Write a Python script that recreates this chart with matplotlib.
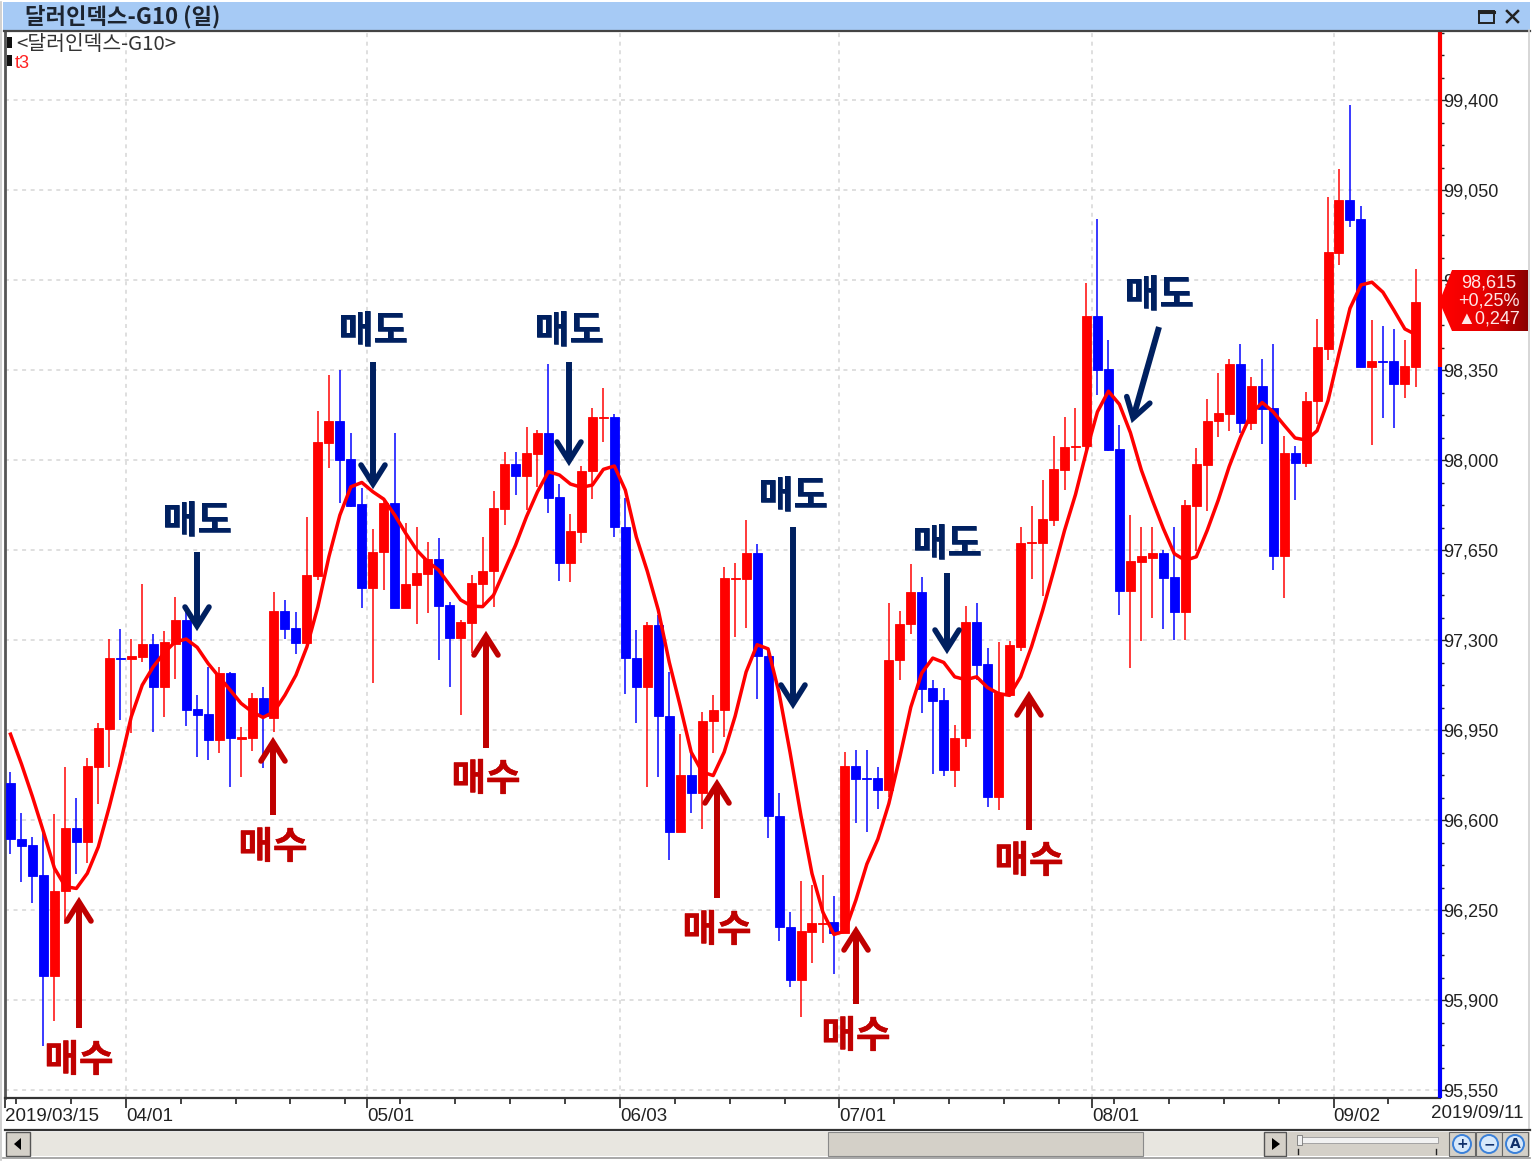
import numpy as np
import matplotlib
matplotlib.use('Agg')
import matplotlib.pyplot as plt
import matplotlib.patheffects as pe
from matplotlib.patches import Rectangle, Polygon, Circle
from matplotlib.ticker import FixedLocator, MultipleLocator

latin = ['Liberation Sans', 'Noto Sans CJK KR', 'DejaVu Sans']
korean = ['Noto Sans CJK KR', 'DejaVu Sans']
plt.rcParams['font.family'] = latin

# daily candles, 2019/03/15 - 2019/09/11
opens = [96745, 96525, 96502, 96387, 95995, 96324, 96569, 96516, 96807, 96954,
         97231, 97227, 97234, 97286, 97118, 97286, 97378, 97031, 97012, 96911,
         97171, 96916, 96918, 97073, 96998, 97414, 97347, 97287, 97549, 98066,
         98154, 98003, 97828, 97501, 97641, 97832, 97423, 97513, 97557, 97614,
         97436, 97307, 97367, 97519, 97570, 97811, 97984, 97938, 98023, 98106,
         97857, 97598, 97719, 97956, 98162, 98166, 97741, 97230, 97117, 97358,
         97006, 96553, 96774, 96705, 96985, 97027, 97536, 97536, 97638, 97240,
         96615, 96185, 95978, 96166, 96197, 96204, 96159, 96810, 96764, 96764,
         96717, 97222, 97361, 97486, 97115, 97067, 96796, 96918, 97370, 97206,
         96689, 97088, 97275, 97676, 97678, 97768, 97963, 98051, 98053, 98561,
         98354, 98044, 97492, 97603, 97621, 97639, 97547, 97409, 97822, 97980,
         98151, 98180, 98373, 98144, 98287, 98202, 97628, 98026, 97990, 98228,
         98433, 98805, 99010, 98937, 98363, 98387, 98385, 98297, 98363]
closes = [96525, 96499, 96383, 95995, 96325, 96569, 96516, 96811, 96958, 97231,
          97226, 97238, 97286, 97118, 97292, 97378, 97028, 97008, 96911, 97171,
          96918, 96922, 97073, 97004, 97414, 97343, 97287, 97553, 98069, 98154,
          98000, 97821, 97501, 97643, 97832, 97423, 97517, 97559, 97614, 97433,
          97307, 97371, 97523, 97570, 97815, 97983, 97938, 98026, 98106, 97853,
          97598, 97723, 97958, 98166, 98167, 97738, 97229, 97117, 97358, 97003,
          96553, 96774, 96705, 96987, 97029, 97540, 97541, 97638, 97240, 96615,
          96184, 95978, 96167, 96198, 96201, 96159, 96810, 96760, 96760, 96717,
          97224, 97364, 97486, 97111, 97063, 96796, 96921, 97370, 97203, 96689,
          97094, 97279, 97678, 97681, 97771, 97967, 98050, 98056, 98561, 98350,
          98041, 97492, 97606, 97627, 97639, 97543, 97409, 97826, 97984, 98154,
          98185, 98373, 98144, 98287, 98198, 97628, 98026, 97990, 98231, 98439,
          98810, 99010, 98934, 98363, 98385, 98382, 98297, 98366, 98615]
highs = [96788, 96628, 96534, 96569, 96623, 96806, 96686, 96841, 96977, 97304,
         97343, 97304, 97518, 97323, 97335, 97468, 97410, 97086, 97196, 97195,
         97177, 96963, 97094, 97117, 97486, 97456, 97408, 97777, 98191, 98331,
         98350, 98106, 97892, 97731, 97844, 98106, 97755, 97741, 97680, 97698,
         97449, 97378, 97553, 97699, 97881, 98032, 98032, 98130, 98119, 98373,
         97906, 97790, 97977, 98203, 98281, 98179, 97851, 97341, 97371, 97398,
         97177, 96933, 96859, 97019, 97085, 97584, 97601, 97766, 97674, 97253,
         96707, 96241, 96362, 96346, 96385, 96306, 96865, 96871, 96871, 96806,
         97444, 97414, 97594, 97546, 97146, 97115, 96969, 97431, 97444, 97268,
         97292, 97296, 97740, 97820, 97924, 98095, 98167, 98202, 98688, 98938,
         98466, 98136, 97785, 97741, 97741, 97650, 97741, 97844, 98046, 98239,
         98338, 98392, 98451, 98324, 98392, 98451, 98092, 98056, 98264, 98549,
         99022, 99132, 99381, 98988, 98543, 98520, 98508, 98466, 98742]
lows = [96468, 96360, 96277, 95722, 95820, 96196, 96390, 96433, 96662, 96807,
        96989, 96938, 97216, 96942, 97002, 97148, 96967, 96845, 96833, 96862,
        96730, 96767, 96870, 96802, 96941, 97305, 97246, 97281, 97533, 97968,
        97834, 97816, 97423, 97132, 97494, 97423, 97423, 97362, 97404, 97222,
        97118, 97008, 97251, 97436, 97427, 97748, 97864, 97806, 97896, 97793,
        97531, 97524, 97676, 97847, 98071, 97699, 97089, 96977, 96730, 96766,
        96444, 96553, 96626, 96567, 96859, 96924, 97312, 97348, 97069, 96530,
        96129, 95951, 95833, 96044, 96122, 96001, 96159, 96589, 96553, 96643,
        96689, 97143, 97324, 97015, 96779, 96772, 96729, 96886, 97143, 96650,
        96639, 97088, 97257, 97539, 97470, 97745, 97883, 97997, 98035, 98253,
        98037, 97397, 97192, 97295, 97386, 97343, 97299, 97299, 97646, 97803,
        98090, 98114, 98107, 98117, 98063, 97573, 97463, 97846, 97975, 98139,
        98388, 98758, 98905, 98363, 98060, 98163, 98126, 98242, 98283]
t3 = [96934, 96818, 96691, 96555, 96413, 96341, 96334, 96393, 96496, 96652,
      96821, 97002, 97125, 97196, 97251, 97293, 97304, 97272, 97209, 97157,
      97106, 97054, 97021, 96999, 97021, 97086, 97164, 97274, 97430, 97624,
      97786, 97896, 97913, 97877, 97848, 97786, 97715, 97650, 97605, 97572,
      97514, 97456, 97432, 97430, 97475, 97572, 97669, 97780, 97877, 97955,
      97942, 97907, 97894, 97903, 97964, 97977, 97883, 97701, 97568, 97417,
      97214, 97043, 96864, 96787, 96773, 96864, 97004, 97176, 97282, 97266,
      97095, 96864, 96616, 96392, 96241, 96155, 96168, 96289, 96429, 96526,
      96664, 96845, 97039, 97172, 97230, 97213, 97157, 97146, 97157, 97115,
      97092, 97085, 97157, 97275, 97414, 97567, 97726, 97866, 98035, 98188,
      98268, 98217, 98107, 97961, 97844, 97734, 97636, 97610, 97624, 97727,
      97844, 97975, 98086, 98180, 98224, 98188, 98136, 98086, 98078, 98114,
      98231, 98414, 98590, 98681, 98692, 98653, 98583, 98510, 98488]

price_ticks = [95550, 95900, 96250, 96600, 96950, 97300, 97650, 98000, 98350, 98700, 99050, 99400]
date_pos = [-0.5, 10.5, 32.5, 55.5, 75.5, 98.5, 120.5]
date_labels = ['2019/03/15', '04/01', '05/01', '06/03', '07/01', '08/01', '09/02']
prev_close = 98363

W, H = 1534, 1162
fig = plt.figure(figsize=(W / 100, H / 100), dpi=100, facecolor='white')

# chart area: pixels 5..1440 across, 32..1098 down
ax = fig.add_axes([5 / W, 1 - 1098 / H, 1435 / W, 1066 / H])
ax.set_xlim(-0.5, 130.2)
ax.set_ylim(95519, 99665)

idx = np.arange(len(opens))
o = np.array(opens)
c = np.array(closes)
up = c >= o
colors = np.where(up, '#ff0000', '#0000ff')

ax.vlines(idx, lows, highs, colors=colors, lw=1.35, alpha=0.8, zorder=3)
ax.bar(idx, np.abs(c - o), bottom=np.minimum(o, c), width=0.82, color=colors,
       edgecolor=colors, linewidth=0.6, zorder=4)
ax.plot(idx, t3, color='#ff0000', lw=2.5, zorder=5, solid_joinstyle='round')

# grid and axes
ax.set_axisbelow(True)
ax.yaxis.tick_right()
ax.yaxis.set_major_locator(FixedLocator(price_ticks))
ax.yaxis.set_minor_locator(MultipleLocator(87.5))
ax.set_yticklabels([f'{p:,}' for p in price_ticks], fontsize=13, color='#222222')
ax.tick_params(axis='y', which='major', length=5, width=1, pad=-2.5, color='#222222')
ax.tick_params(axis='y', which='minor', length=3, width=1, color='#222222')
ax.xaxis.set_major_locator(FixedLocator(date_pos))
ax.xaxis.set_minor_locator(MultipleLocator(5, offset=0.5))
ax.set_xticklabels(date_labels, fontsize=13.5, color='#222222', ha='left')
ax.tick_params(axis='x', which='major', length=7, width=1.2, pad=0, color='#222222')
ax.tick_params(axis='x', which='minor', length=4, width=1.2, color='#222222')
ax.grid(True, which='major', color='#d6d6d6', lw=1.1, linestyle=(0, (2.6, 3)))

for side in ['top', 'right']:
    ax.spines[side].set_visible(False)
ax.spines['left'].set_color('#555555')
ax.spines['left'].set_linewidth(2)
ax.spines['bottom'].set_color('#333333')
ax.spines['bottom'].set_linewidth(1.6)

# price axis bar changes colour at the previous close
edge = ax.get_xlim()[1]
ax.vlines(edge, prev_close, ax.get_ylim()[1], color='#ff0000', lw=3, clip_on=False, zorder=6)
ax.vlines(edge, ax.get_ylim()[0], prev_close, color='#0000ff', lw=3, clip_on=False, zorder=6)

# window frame, arrows and notes in pixel coordinates
ov = fig.add_axes([0, 0, 1, 1], facecolor='none', zorder=10)
ov.set_xlim(0, W)
ov.set_ylim(H, 0)
ov.axis('off')

# title bar
ov.add_patch(Rectangle((3, 2), 1527, 28, fc='#a6caf5', ec='none'))
ov.plot([4, 1530], [31, 31], color='#444444', lw=1.6)
ov.text(25, 17, '달러인덱스-G10 (일)', family=korean, fontsize=16, weight='bold',
        color='#1c2430', va='center', ha='left')
ov.add_patch(Rectangle((1479, 11), 15, 12, fc='none', ec='#222222', lw=1.4))
ov.plot([1479, 1494], [12, 12], color='#222222', lw=2.2)
ov.plot([1507, 1518], [11, 22], color='#222222', lw=1.8)
ov.plot([1507, 1518], [22, 11], color='#222222', lw=1.8)

# outer edges
ov.plot([1529, 1529], [30, 1130], color='#d0d0d0', lw=1.2)
ov.plot([1, 1], [2, 1160], color='#c8c8c8', lw=1.2)

# legend
ov.add_patch(Rectangle((7, 37), 5, 11, fc='#111111', ec='none'))
ov.add_patch(Rectangle((7, 55), 5, 11, fc='#111111', ec='none'))
ov.text(16, 45, '<달러인덱스-G10>', family=korean, fontsize=14.7, color='#333333', va='center', ha='left')
ov.text(15, 63, 't3', fontsize=13, color='#ff2020', va='center', ha='left')

# last date on the axis
ov.text(1524, 1113, '2019/09/11', fontsize=13.5, color='#222222', va='center', ha='right')

# bottom scroll strip
ov.plot([5, 1530], [1130, 1130], color='#333333', lw=1.6)
ov.add_patch(Rectangle((6, 1132), 1524, 24, fc='#e8e6e0', ec='none'))
ov.add_patch(Rectangle((6, 1132), 24, 24, fc='#d4d0c8', ec='#555555', lw=1))
ov.add_patch(Polygon([[21, 1138], [21, 1150], [14, 1144]], fc='black'))
ov.add_patch(Rectangle((828, 1132), 315, 24, fc='#d4d0c8', ec='#8a8a8a', lw=0.8))
ov.add_patch(Rectangle((1264, 1132), 22, 24, fc='#d4d0c8', ec='#555555', lw=1))
ov.add_patch(Polygon([[1272, 1138], [1272, 1150], [1280, 1144]], fc='black'))
ov.add_patch(Rectangle((1288, 1132), 242, 24, fc='#d4d0c8', ec='none'))
ov.add_patch(Rectangle((1300, 1137), 138, 6, fc='#f2f2f2', ec='#999999', lw=0.6))
ov.add_patch(Rectangle((1297, 1135), 5, 10, fc='#efefef', ec='#777777', lw=0.6))
ov.plot([1298, 1298], [1149, 1154], color='#222222', lw=1)
ov.plot([1436, 1436], [1149, 1154], color='#222222', lw=1)
for bx, mark in zip([1462, 1489, 1515], ['+', '−', 'A']):
    ov.add_patch(Rectangle((bx - 13, 1132), 26, 24, fc='#d4d0c8', ec='#666666', lw=0.8))
    ov.add_patch(Circle((bx, 1144), 9, fc='#d6e8fb', ec='#3a80d8', lw=1.4))
    ov.text(bx, 1144, mark, fontsize=10, weight='bold', color='#10306a', ha='center', va='center',
            family='DejaVu Sans')
ov.plot([3, 1530], [1158, 1158], color='#999999', lw=1.2)

# last price badge
badge = Polygon([[1452, 270], [1528, 270], [1528, 331], [1452, 331], [1442, 308], [1442, 295]],
                fc='none', ec='none')
ov.add_patch(badge)
grad = ov.imshow(np.linspace(0, 1, 128).reshape(1, -1), extent=(1442, 1528, 331, 270), aspect='auto',
                 cmap=matplotlib.colors.LinearSegmentedColormap.from_list('b', ['#ff0000', '#e80000', '#8a0000']),
                 zorder=2)
grad.set_clip_path(badge)
ov.set_xlim(0, W)
ov.set_ylim(H, 0)
for ty, txt in zip([283, 301, 319], ['98,615', '+0,25%', '▲0,247']):
    ov.text(1489, ty, txt, fontsize=13, color='#ffe6e6', ha='center', va='center', zorder=3,
            family=['Liberation Sans', 'DejaVu Sans'])


def draw_arrow(x0, y0, x1, y1, color):
    d = np.array([x1 - x0, y1 - y0], dtype=float)
    d /= np.hypot(*d)
    n = np.array([-d[1], d[0]])
    tip = np.array([x1, y1])
    ov.plot([x0, x1 - d[0] * 4], [y0, y1 - d[1] * 4], color=color, lw=4.3, solid_capstyle='butt', zorder=7)
    a = tip - d * 23 + n * 12
    b = tip - d * 23 - n * 12
    ov.plot([a[0], x1 - d[0] * 4, b[0]], [a[1], y1 - d[1] * 4, b[1]], color=color, lw=4,
            solid_capstyle='round', solid_joinstyle='miter', zorder=7)


buy_color = '#c00000'
sell_color = '#002060'
buy_arrows = [(79, 1028, 898), (273, 815, 738), (486, 748, 632), (717, 898, 780), (856, 1004, 927), (1029, 830, 692)]
sell_arrows = [(197, 552, 630), (373, 362, 488), (569, 362, 465), (793, 527, 708), (947, 573, 653)]
for x, y0, y1 in buy_arrows:
    draw_arrow(x, y0, x, y1, buy_color)
for x, y0, y1 in sell_arrows:
    draw_arrow(x, y0, x, y1, sell_color)
draw_arrow(1159, 327, 1132, 422, sell_color)

buy_text = [(79, 1060), (273, 847), (486, 779), (717, 930), (856, 1036), (1029, 861)]
sell_text = [(197, 521), (373, 331), (569, 331), (793, 496), (947, 544), (1159, 295)]
for x, y in buy_text:
    ov.text(x, y, '매수', family=korean, fontsize=27, weight='bold', color=buy_color,
            ha='center', va='center', zorder=8, path_effects=[pe.withStroke(linewidth=0.4, foreground=buy_color)])
for x, y in sell_text:
    ov.text(x, y, '매도', family=korean, fontsize=27, weight='bold', color=sell_color,
            ha='center', va='center', zorder=8, path_effects=[pe.withStroke(linewidth=0.4, foreground=sell_color)])

fig.savefig('out.png', dpi=100)
